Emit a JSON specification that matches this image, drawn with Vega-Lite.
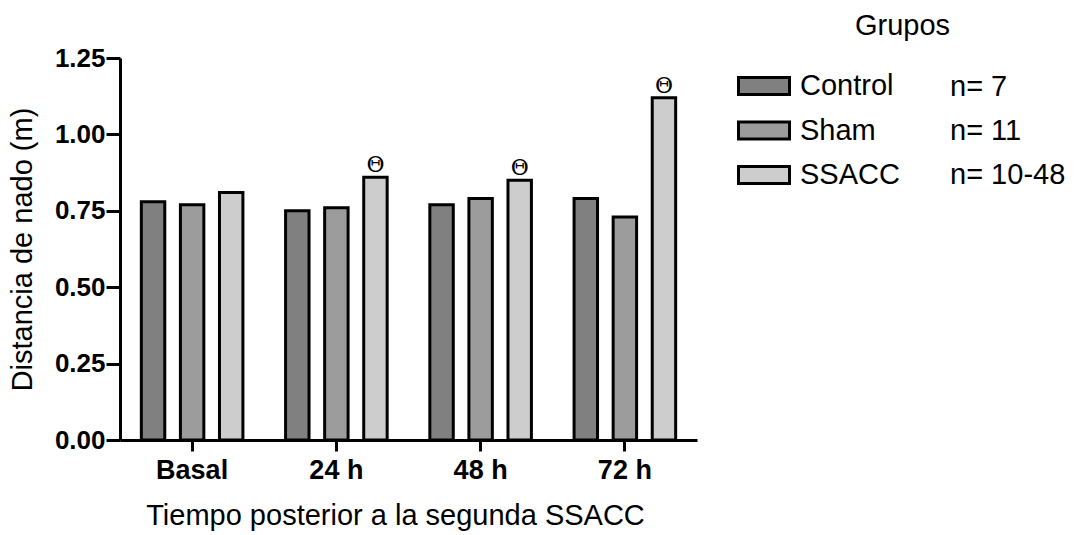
{
  "$schema": "https://vega.github.io/schema/vega-lite/v6.json",
  "autosize": {"type": "none"},
  "padding": {"left": 120, "top": 58, "right": 384, "bottom": 95},
  "width": 577,
  "height": 382,
  "background": "white",
  "title": {"text": "Grupos", "anchor": "start", "frame": "group", "dx": 735, "offset": 4, "fontSize": 29, "fontWeight": "normal", "font": "Liberation Sans", "color": "black"},
  "config": {
    "view": {"stroke": null},
    "font": "Liberation Sans"
  },
  "data": {
    "values": [
      {"tiempo": "Basal", "grupo": "Control", "n": "n= 7", "valor": 0.78, "sig": ""},
      {"tiempo": "Basal", "grupo": "Sham", "n": "n= 11", "valor": 0.77, "sig": ""},
      {"tiempo": "Basal", "grupo": "SSACC", "n": "n= 10-48", "valor": 0.81, "sig": ""},
      {"tiempo": "24 h", "grupo": "Control", "n": "n= 7", "valor": 0.75, "sig": ""},
      {"tiempo": "24 h", "grupo": "Sham", "n": "n= 11", "valor": 0.76, "sig": ""},
      {"tiempo": "24 h", "grupo": "SSACC", "n": "n= 10-48", "valor": 0.86, "sig": "Θ"},
      {"tiempo": "48 h", "grupo": "Control", "n": "n= 7", "valor": 0.77, "sig": ""},
      {"tiempo": "48 h", "grupo": "Sham", "n": "n= 11", "valor": 0.79, "sig": ""},
      {"tiempo": "48 h", "grupo": "SSACC", "n": "n= 10-48", "valor": 0.85, "sig": "Θ"},
      {"tiempo": "72 h", "grupo": "Control", "n": "n= 7", "valor": 0.79, "sig": ""},
      {"tiempo": "72 h", "grupo": "Sham", "n": "n= 11", "valor": 0.73, "sig": ""},
      {"tiempo": "72 h", "grupo": "SSACC", "n": "n= 10-48", "valor": 1.12, "sig": "Θ"}
    ]
  },
  "encoding": {
    "x": {
      "field": "tiempo", "type": "nominal", "sort": ["Basal", "24 h", "48 h", "72 h"],
      "scale": {"paddingInner": 0, "paddingOuter": 0},
      "axis": {
        "title": "Tiempo posterior a la segunda SSACC", "labelAngle": 0,
        "labelFont": "Liberation Sans", "labelFontSize": 27, "labelFontWeight": "bold", "labelColor": "black", "labelPadding": 6,
        "titleFont": "Liberation Sans", "titleFontSize": 29, "titleFontWeight": "normal", "titleColor": "black", "titlePadding": 18, "titleX": 275,
        "domainColor": "black", "domainWidth": 3, "tickColor": "black", "tickWidth": 3, "tickSize": 11
      }
    },
    "xOffset": {"field": "grupo", "type": "nominal", "sort": ["Control", "Sham", "SSACC"], "scale": {"paddingInner": 0.4, "paddingOuter": 0.546}},
    "y": {
      "field": "valor", "type": "quantitative",
      "scale": {"domain": [0, 1.25], "nice": false},
      "axis": {
        "title": "Distancia de nado (m)", "values": [0, 0.25, 0.5, 0.75, 1.0, 1.25], "format": ".2f", "grid": false,
        "labelFont": "Liberation Sans", "labelFontSize": 26, "labelFontWeight": "bold", "labelColor": "black", "labelPadding": 1,
        "titleFont": "Liberation Sans", "titleFontSize": 29, "titleFontWeight": "normal", "titleColor": "black", "titlePadding": 17,
        "domainColor": "black", "domainWidth": 3, "tickColor": "black", "tickWidth": 3, "tickSize": 14
      }
    }
  },
  "layer": [
    {
      "mark": {"type": "bar", "stroke": "black", "strokeWidth": 3},
      "encoding": {
        "fill": {
          "field": "grupo", "type": "nominal",
          "scale": {"domain": ["Control", "Sham", "SSACC"], "range": ["#808080", "#9c9c9c", "#cdcdcd"]},
          "legend": {
            "title": null, "orient": "none", "legendX": 617, "legendY": 1,
            "symbolType": "M-1,-0.333H1V0.333H-1Z", "symbolSize": 2601, "symbolStrokeColor": "black", "symbolStrokeWidth": 3, "symbolOpacity": 1,
            "labelFont": "Liberation Sans", "labelFontSize": 29, "labelColor": "black", "labelOffset": 9, "rowPadding": 2.5
          }
        }
      }
    },
    {
      "mark": {"type": "point", "opacity": 0},
      "encoding": {
        "shape": {
          "field": "n", "type": "nominal",
          "scale": {"domain": ["n= 7", "n= 11", "n= 10-48"], "range": ["circle", "circle", "circle"]},
          "legend": {
            "title": null, "orient": "none", "legendX": 801, "legendY": 14,
            "symbolOpacity": 0, "symbolSize": 1, "labelOffset": 0,
            "labelFont": "Liberation Sans", "labelFontSize": 29, "labelColor": "black", "rowPadding": 14
          }
        }
      }
    },
    {
      "transform": [{"filter": "datum.sig != ''"}],
      "mark": {"type": "text", "baseline": "alphabetic", "dy": -5, "fontSize": 22, "fontWeight": "normal", "font": "DejaVu Serif", "color": "black"},
      "encoding": {"text": {"field": "sig"}}
    }
  ]
}
